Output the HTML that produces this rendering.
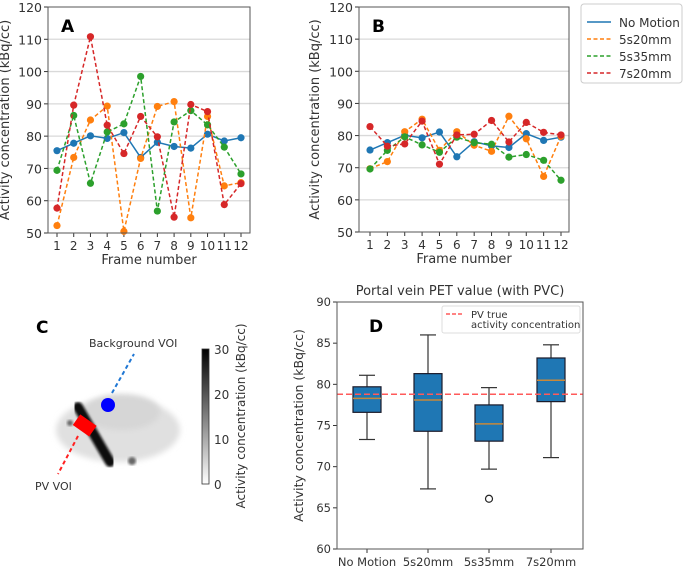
<!DOCTYPE html>
<html><head><meta charset="utf-8"><style>
body{margin:0;background:#fff;}
svg{font-family:"DejaVu Sans","Liberation Sans",sans-serif;}
</style></head><body>
<svg id="fig" width="685" height="568" viewBox="0 0 685 568" xmlns="http://www.w3.org/2000/svg">
<defs><filter id="blur"><feGaussianBlur stdDeviation="3"/></filter><filter id="blur2"><feGaussianBlur stdDeviation="1.2"/></filter></defs>
<g id="pa"></g>
<g id="pb"></g>
<g id="pc">
  <text x="36" y="333" font-size="17" font-weight="bold">C</text>
  <ellipse cx="118" cy="430" rx="62" ry="32" fill="#e0e0e0" filter="url(#blur)"/>
  <ellipse cx="122" cy="412" rx="38" ry="18" fill="#d6d6d6" filter="url(#blur)"/>
  <line x1="78" y1="407" x2="110" y2="462" stroke="#111" stroke-width="10" stroke-linecap="round" filter="url(#blur2)"/>
  <circle cx="132" cy="461" r="4" fill="#666" filter="url(#blur2)"/>
  <circle cx="70" cy="423" r="3" fill="#666" filter="url(#blur2)"/>
  <rect x="75" y="419" width="20" height="13" fill="#ff0000" transform="rotate(35 85 425)"/>
  <circle cx="108" cy="405" r="7" fill="#0000ff"/>
  <line x1="112" y1="393" x2="134" y2="354" stroke="#1f77d4" stroke-width="2" stroke-dasharray="4,3"/>
  <line x1="78" y1="436" x2="58" y2="474" stroke="#ff2020" stroke-width="2" stroke-dasharray="4,3"/>
  <text x="89" y="347" font-size="11" fill="#333">Background VOI</text>
  <text x="35" y="490" font-size="11" fill="#333">PV VOI</text>
  <linearGradient id="cg" x1="0" y1="0" x2="0" y2="1"><stop offset="0" stop-color="#000"/><stop offset="1" stop-color="#fff"/></linearGradient>
  <rect x="202" y="349" width="7" height="135" fill="url(#cg)" stroke="#333" stroke-width="0.8"/>
  <g font-size="12" fill="#333">
   <text x="214" y="354">30</text><text x="214" y="399">20</text><text x="214" y="444">10</text><text x="214" y="489">0</text>
  </g>
  <text transform="translate(245 416) rotate(-90)" text-anchor="middle" font-size="12" fill="#333">Activity concentration (kBq/cc)</text>
</g>
<g id="pd"></g>
</svg>
<script>
const frames=[1,2,3,4,5,6,7,8,9,10,11,12];
const seriesNames=["No Motion","5s20mm","5s35mm","7s20mm"];
const colors=["#1f77b4","#ff7f0e","#2ca02c","#d62728"];
const aNoMotion=[75.5,77.8,80.1,79.3,81.1,73.4,78.1,76.8,76.3,80.6,78.5,79.5];
const a5s20=[52.3,73.4,85,89.3,50.5,73.1,89.2,90.7,54.7,86.1,64.6,65.6];
const a5s35=[69.4,86.4,65.4,81.3,83.8,98.5,56.8,84.4,87.9,83.5,76.6,68.3];
const a7s20=[57.7,89.6,110.8,83.4,74.6,86.1,79.8,54.9,89.8,87.6,58.8,65.3];
const bNoMotion=[75.5,77.8,80.1,79.3,81.1,73.4,78.1,76.8,76.3,80.6,78.5,79.5];
const b5s20=[69.7,71.9,81.2,85.1,75.4,81.2,77,75.1,86,79,67.3,79.8];
const b5s35=[69.6,75.4,79.6,77.1,74.8,79.5,77.8,77.3,73.3,74.1,72.3,66.1];
const b7s20=[82.8,76.7,77.4,84.5,71.1,80.2,80.4,84.7,78,84.1,81,80.2];
const yTicksAB=[50,60,70,80,90,100,110,120];
const boxCats=["No Motion","5s20mm","5s35mm","7s20mm"];
const boxLow=[73.3,67.3,69.7,71.1];
const boxQ1=[76.6,74.3,73.1,77.9];
const boxMed=[78.3,78.1,75.2,80.5];
const boxQ3=[79.7,81.3,77.5,83.2];
const boxHigh=[81.1,86,79.6,84.8];
const outlierCat=[2];
const outlierVal=[66.1];
const trueValue=[78.8];
const yTicksD=[60,65,70,75,80,85,90];

const NS="http://www.w3.org/2000/svg";
function el(p,t,a,txt){const e=document.createElementNS(NS,t);for(const k in a)e.setAttribute(k,a[k]);if(txt!==undefined)e.textContent=txt;p.appendChild(e);return e;}

function lineChart(g,x0,x1,y0,y1,xf0,xf1,letter,data,legend,ylabX){
  const ys=v=>y1-(v-50)/70*(y1-y0);
  const xs=f=>xf0+(f-1)/11*(xf1-xf0);
  yTicksAB.forEach(t=>{
    if(t>50&&t<120){const gl=el(g,"line",{x1:x0,x2:x1,y1:ys(t),y2:ys(t),stroke:"#d9d9d9","stroke-width":1.3});
    
    }
    el(g,"line",{x1:x0-4,x2:x0,y1:ys(t),y2:ys(t),stroke:"#333"});
    const tl=el(g,"text",{x:x0-6,y:ys(t)+5,"text-anchor":"end","font-size":12.5,fill:"#333"},t);
    
    
  });
  frames.forEach(f=>{
    el(g,"line",{x1:xs(f),x2:xs(f),y1:y1,y2:y1+4,stroke:"#333"});
    const tl=el(g,"text",{x:xs(f),y:y1+17,"text-anchor":"middle","font-size":12,fill:"#333"},f);
    
    
  });
  data.forEach((d,i)=>{
    const pts=d.map((v,j)=>xs(frames[j])+","+ys(v)).join(" ");
    const pl=el(g,"polyline",{points:pts,fill:"none",stroke:colors[i],"stroke-width":1.5,"stroke-dasharray":i?"4,2.5":"none"});
    
    
    d.forEach((v,j)=>{const c=el(g,"circle",{cx:xs(frames[j]),cy:ys(v),r:3.6,fill:colors[i]});
      
      });
  });
  el(g,"rect",{x:x0,y:y0,width:x1-x0,height:y1-y0,fill:"none",stroke:"#555","stroke-width":1});
  const lt=el(g,"text",{x:x0+13,y:y0+25,"font-size":17,"font-weight":"bold"},letter);
  
  
  const xt=el(g,"text",{x:(x0+x1)/2,y:y1+31,"text-anchor":"middle","font-size":13,fill:"#333"},"Frame number");
  
  
  const yt=el(g,"text",{transform:`translate(${ylabX} ${(y0+y1)/2}) rotate(-90)`,"text-anchor":"middle","font-size":13,fill:"#333"},"Activity concentration (kBq/cc)");
  
  
  if(legend){
    const lg=el(g,"g",{});
    
    
    el(lg,"rect",{x:581,y:4,width:101,height:79,rx:3,fill:"#fff",stroke:"#ccc"});
    seriesNames.forEach((n,i)=>{
      const yy=22+i*17;
      el(lg,"line",{x1:587,x2:611,y1:yy,y2:yy,stroke:colors[i],"stroke-width":1.5,"stroke-dasharray":i?"4,2.5":"none"});
      const t=el(lg,"text",{x:619,y:yy+5,"font-size":12,fill:"#333"},n);
      
      
    });
  }
}
lineChart(document.getElementById("pa"),48,250,7,233,57,241,"A",[aNoMotion,a5s20,a5s35,a7s20],false,9);
lineChart(document.getElementById("pb"),359,569,7,232,370,561,"B",[bNoMotion,b5s20,b5s35,b7s20],true,319);

(function(){
  const g=document.getElementById("pd");
  const x0=337,x1=583,y0=302,y1=549;
  const ys=v=>y1-(v-60)/30*(y1-y0);
  const xc=[367,428,489,551];
  const tt=el(g,"text",{x:(x0+x1)/2,y:295,"text-anchor":"middle","font-size":13,fill:"#333"},"Portal vein PET value (with PVC)");
  
  
  yTicksD.forEach(t=>{
    el(g,"line",{x1:x0-4,x2:x0,y1:ys(t),y2:ys(t),stroke:"#333"});
    const tl=el(g,"text",{x:x0-6,y:ys(t)+4,"text-anchor":"end","font-size":11.5,fill:"#333"},t);
    
    
  });
  boxCats.forEach((c,i)=>{
    const x=xc[i],w=28;
    el(g,"line",{x1:x,x2:x,y1:ys(boxLow[i]),y2:ys(boxQ1[i]),stroke:"#333","stroke-width":1.2});
    el(g,"line",{x1:x,x2:x,y1:ys(boxQ3[i]),y2:ys(boxHigh[i]),stroke:"#333","stroke-width":1.2});
    el(g,"line",{x1:x-8,x2:x+8,y1:ys(boxLow[i]),y2:ys(boxLow[i]),stroke:"#333","stroke-width":1.2});
    el(g,"line",{x1:x-8,x2:x+8,y1:ys(boxHigh[i]),y2:ys(boxHigh[i]),stroke:"#333","stroke-width":1.2});
    const b=el(g,"rect",{x:x-w/2,y:ys(boxQ3[i]),width:w,height:ys(boxQ1[i])-ys(boxQ3[i]),fill:"#1f77b4",stroke:"#1a1a2a","stroke-width":1.2});
    
    
    el(g,"line",{x1:x-w/2,x2:x+w/2,y1:ys(boxMed[i]),y2:ys(boxMed[i]),stroke:"#c8883a","stroke-width":1.5});
    el(g,"line",{x1:x,x2:x,y1:y1,y2:y1+4,stroke:"#333"});
    const tl=el(g,"text",{x:x,y:y1+17,"text-anchor":"middle","font-size":11.5,fill:"#333"},c);
    
    
  });
  outlierCat.forEach((ci,k)=>{const o=el(g,"circle",{cx:xc[ci],cy:ys(outlierVal[k]),r:3.5,fill:"none",stroke:"#222","stroke-width":1.2});
    
    });
  const tl=el(g,"line",{x1:x0,x2:x1,y1:ys(trueValue[0]),y2:ys(trueValue[0]),stroke:"#ff5a5a","stroke-width":1.5,"stroke-dasharray":"6,3"});
  
  
  el(g,"rect",{x:x0,y:y0,width:x1-x0,height:y1-y0,fill:"none",stroke:"#555"});
  const lt=el(g,"text",{x:369,y:332,"font-size":17,"font-weight":"bold"},"D");
  
  
  const lg=el(g,"g",{});
  
  
  el(lg,"rect",{x:442,y:306,width:138,height:27,rx:2,fill:"#fff",stroke:"#ddd"});
  el(lg,"line",{x1:446,x2:464,y1:314,y2:314,stroke:"#ff5a5a","stroke-width":1.5,"stroke-dasharray":"4,2"});
  el(lg,"text",{x:471,y:318,"font-size":10,fill:"#333"},"PV true");
  el(lg,"text",{x:471,y:328,"font-size":10,fill:"#333"},"activity concentration");
  const yt=el(g,"text",{transform:`translate(303 ${(y0+y1)/2}) rotate(-90)`,"text-anchor":"middle","font-size":12.5,fill:"#333"},"Activity concentration (kBq/cc)");
  
  
})();
</script>
</body></html>
